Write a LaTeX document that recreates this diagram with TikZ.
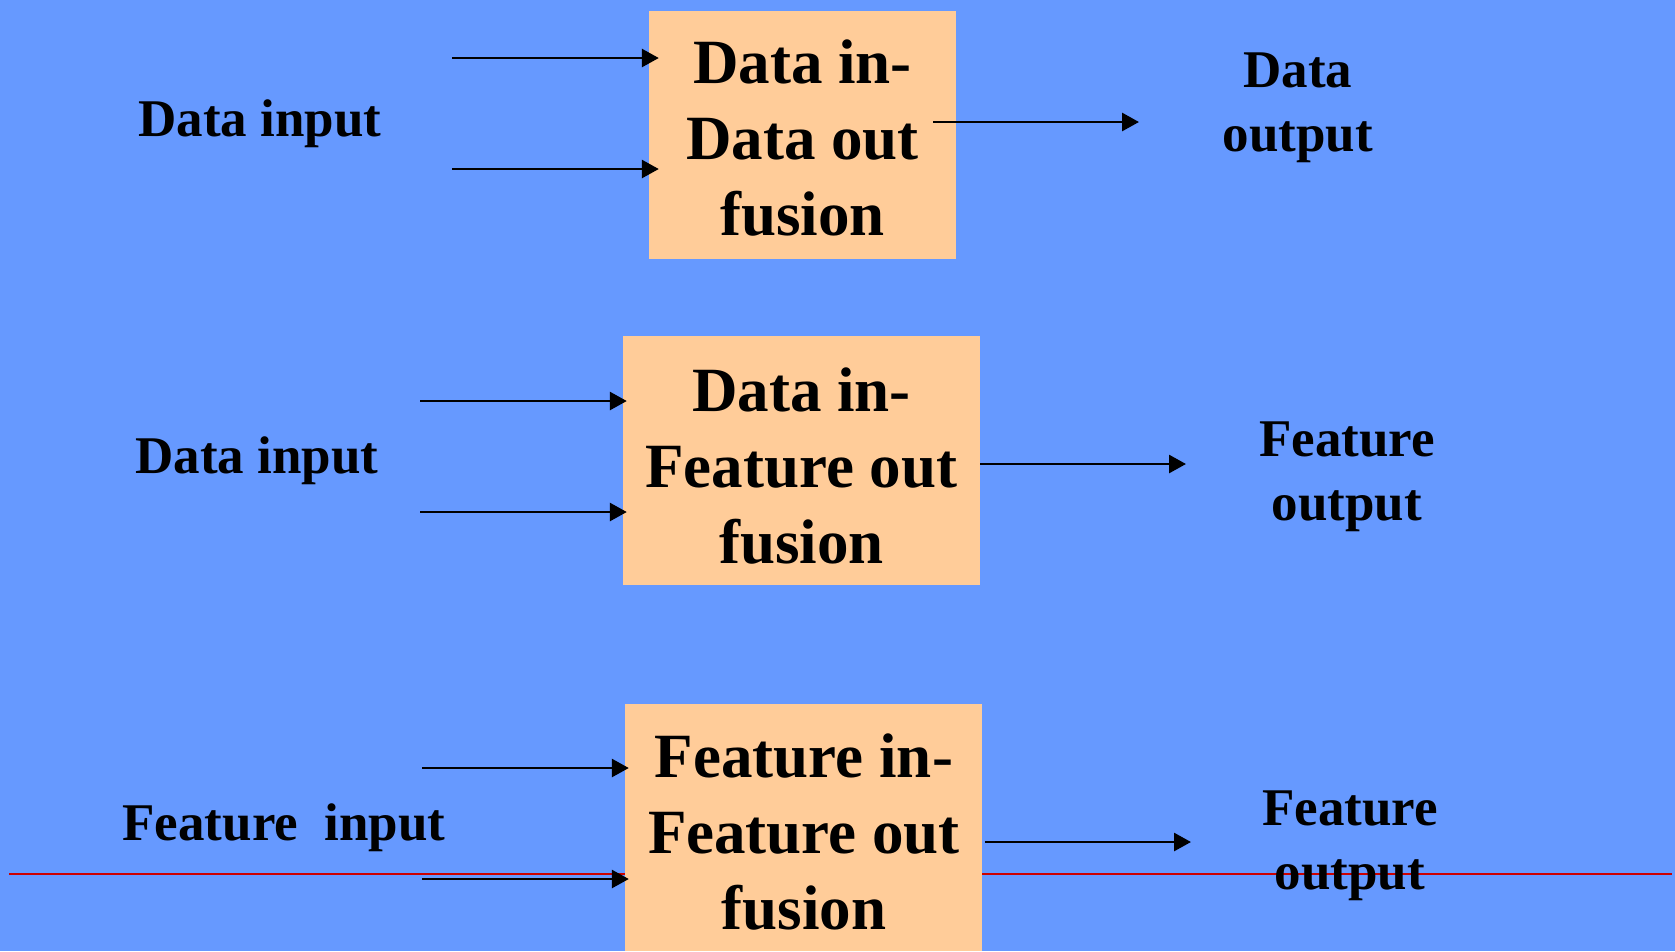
\documentclass[tikz,border=0pt]{standalone}
\usepackage{fontspec}
\setmainfont{Liberation Serif}
\usetikzlibrary{arrows.meta,calc}
\definecolor{bgblue}{HTML}{6699FF}
\definecolor{boxfill}{HTML}{FFCC99}
\definecolor{rule}{HTML}{CC0000}
\tikzset{
  fusionbox/.style={fill=boxfill, draw=none, inner sep=0pt, align=center,
    font=\fontsize{63}{76}\selectfont\bfseries},
  lbl/.style={align=center, inner sep=0pt, font=\fontsize{53}{64}\selectfont\bfseries},
  arr/.style={line width=2.8pt, -{Triangle[length=17pt,width=18pt]}},
}
\begin{document}
\begin{tikzpicture}[x=1pt,y=-1pt]
  % canvas
  \fill[bgblue] (0,0) rectangle (1675,951);
  \useasboundingbox (0,0) rectangle (1675,951);

  % red rule, behind the boxes
  \coordinate (rl) at (9,874);
  \coordinate (rr) at (1672,874);
  \draw[rule, line width=2.4pt] (rl) -- (rr);

  % fusion boxes
  \node[fusionbox, minimum width=307pt, minimum height=248pt] (b1) at (802.5,135) {};
  \node[fusionbox] (t1) at (802.5,138.5) {Data in-\\Data out\\fusion};
  \node[fusionbox, minimum width=357pt, minimum height=249pt] (b2) at (801.5,460.5) {};
  \node[fusionbox] (t2) at (801.5,466) {Data in-\\Feature out\\fusion};
  \node[fusionbox, minimum width=357pt, minimum height=247pt, anchor=north] (b3) at (803.5,704) {};
  \node[fusionbox] (t3) at (804,832) {Feature in-\\Feature out\\fusion};

  % labels
  \node[lbl] (in1) at (260,123.5) {Data input};
  \node[lbl] (out1) at (1298,107.5) {Data\\output};
  \node[lbl] (in2) at (257,460.5) {Data input};
  \node[lbl] (out2) at (1347,476.5) {Feature\\output};
  \node[lbl] (in3) at (284,827.5) {Feature\ \ input};
  \node[lbl] (out3) at (1350,845.5) {Feature\\output};

  % inputs
  \coordinate (a1) at (452,58);
  \coordinate (a2) at (452,169);
  \coordinate (a3) at (420,401);
  \coordinate (a4) at (420,512);
  \coordinate (a5) at (422,768);
  \coordinate (a6) at (422,879);
  \draw[arr] (a1) -- ($(a1 -| b1.west)+(10,0)$);
  \draw[arr] (a2) -- ($(a2 -| b1.west)+(10,0)$);
  \draw[arr] (a3) -- ($(a3 -| b2.west)+(4,0)$);
  \draw[arr] (a4) -- ($(a4 -| b2.west)+(4,0)$);
  \draw[arr] (a5) -- ($(a5 -| b3.west)+(4,0)$);
  \draw[arr] (a6) -- ($(a6 -| b3.west)+(4,0)$);

  % outputs
  \coordinate (s1) at (933,122);
  \coordinate (e1) at (1139,122);
  \coordinate (e2) at (1186,464);
  \coordinate (s3) at (985,842);
  \coordinate (e3) at (1191,842);
  \draw[arr] (s1) -- (e1);
  \draw[arr] (e2 -| b2.east) -- (e2);
  \draw[arr] (s3) -- (e3);
\end{tikzpicture}
\end{document}
